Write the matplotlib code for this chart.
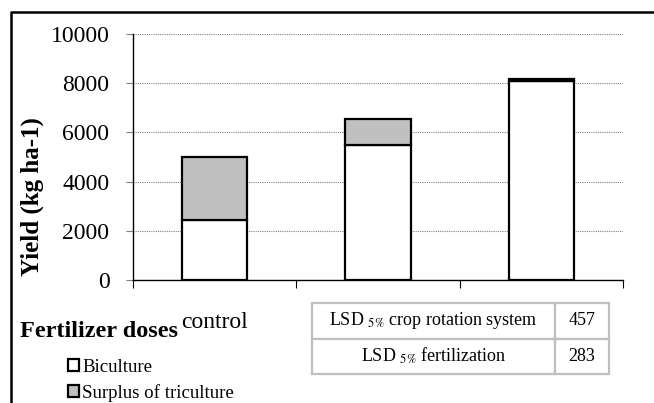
import matplotlib
matplotlib.use("Agg")
import matplotlib.pyplot as plt
from matplotlib.lines import Line2D
import numpy as np

plt.rcParams['font.family'] = ['Liberation Serif', 'DejaVu Serif']
plt.rcParams['mathtext.fontset'] = 'stix'

# Data
categories = ["control", "", ""]          # other labels are hidden behind the LSD table
biculture = [2420, 5480, 8100]
surplus_triculture = [2580, 1060, 90]
series_labels = ["Biculture", "Surplus of triculture"]
yticks = [0, 2000, 4000, 6000, 8000, 10000]
lsd_rows = [["LSD $_{\\mathrm{5\\%}}$ crop rotation system", "457"],
            ["LSD $_{\\mathrm{5\\%}}$ fertilization", "283"]]

W, H = 654, 403
fig = plt.figure(figsize=(W / 100, H / 100), dpi=100)
ax = fig.add_axes([133 / W, 1 - 280 / H, (623 - 133) / W, (280 - 34) / H])

x = np.arange(len(categories))
b1 = ax.bar(x, biculture, width=0.4, color="white", edgecolor="black", linewidth=1.6,
            label=series_labels[0], zorder=3)
b2 = ax.bar(x, surplus_triculture, bottom=biculture, width=0.4, color="#c0c0c0",
            edgecolor="black", linewidth=1.6, label=series_labels[1], zorder=3)

ax.set_xlim(-0.5, len(categories) - 0.5)
ax.set_ylim(0, 10000)
ax.set_yticks(yticks)
ax.set_yticklabels([str(v) for v in yticks], fontsize=17)
ax.yaxis.grid(True, color="#808080", linestyle=(0, (1, 1)), linewidth=0.8, zorder=0)
ax.tick_params(axis="y", length=5, color="#808080", pad=12)

ax.set_xticks(np.arange(-0.5, len(categories), 1.0))
ax.set_xticklabels([])
ax.set_xticks(x, minor=True)
ax.set_xticklabels(categories, minor=True, fontsize=17)
ax.tick_params(axis="x", which="major", length=6, direction="out")
ax.tick_params(axis="x", which="minor", length=0, pad=23)

for s in ["top", "right"]:
    ax.spines[s].set_visible(False)
ax.spines["left"].set_linewidth(1.0)
ax.spines["bottom"].set_linewidth(1.0)

ax.set_ylabel("Yield (kg ha-1)", fontsize=18, fontweight="bold")
ax.yaxis.set_label_coords(-(133 - 44) / 490, (280 - 197) / 246)

fig.text(20 / W, 1 - 337 / H, "Fertilizer doses", fontsize=17.5, fontweight="bold",
         ha="left", va="baseline")

fig.legend(handles=[b1, b2], labels=series_labels, loc="upper left",
           bbox_to_anchor=(68 / W, 1 - 359 / H), frameon=False, fontsize=13.6,
           handlelength=0.6, handleheight=0.6, handletextpad=0.15,
           labelspacing=0.42, borderaxespad=0, borderpad=0)

# LSD table
tax = fig.add_axes([312 / W, 1 - 374 / H, (609 - 312) / W, (374 - 303) / H], zorder=5)
tax.set_axis_off()
tbl = tax.table(cellText=lsd_rows, bbox=[0, 0, 1, 1], cellLoc="center",
                colWidths=[(555 - 312) / (609 - 312), (609 - 555) / (609 - 312)])
tbl.auto_set_font_size(False)
for (r, c), cell in tbl.get_celld().items():
    cell.set_edgecolor("#bfbfbf")
    cell.set_linewidth(1.6)
    cell.set_facecolor("white")
    cell.get_text().set_fontsize(13)

# chart frame (top and left edges)
fig.add_artist(Line2D([10.5 / W, 10.5 / W, 1], [0, 1 - 12 / H, 1 - 12 / H],
                      color="black", linewidth=1.8, transform=fig.transFigure))

fig.savefig("out.png", dpi=100)
